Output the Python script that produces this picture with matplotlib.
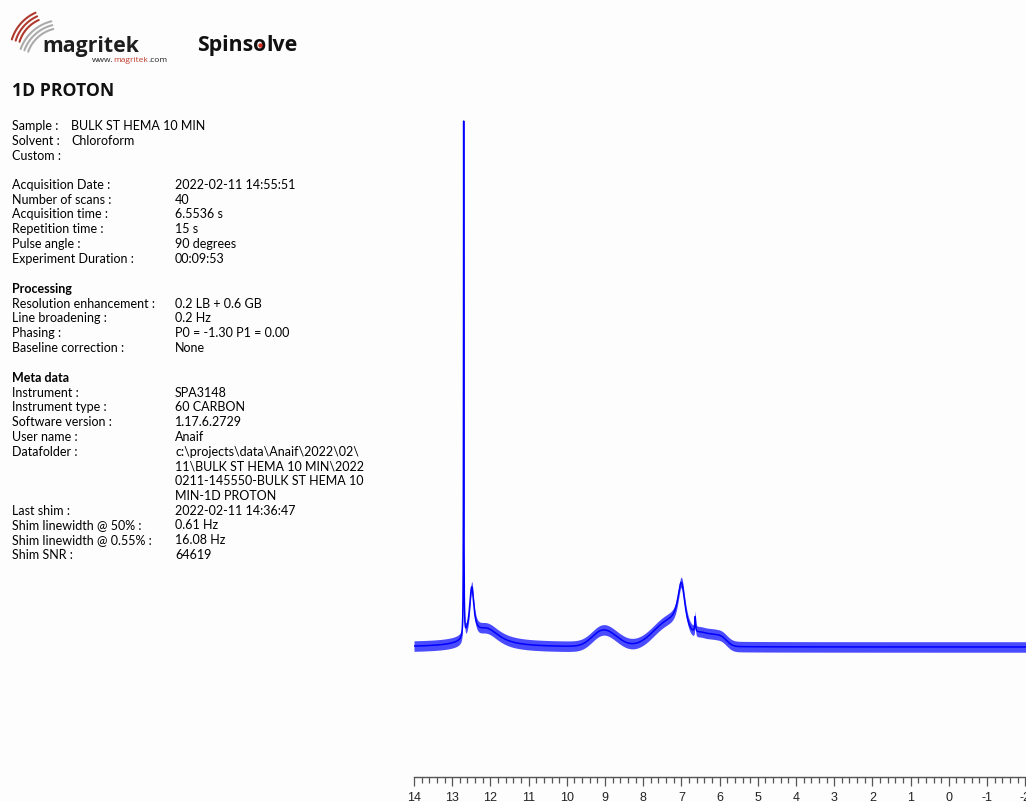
import numpy as np
import matplotlib
matplotlib.use("Agg")
import matplotlib.pyplot as plt
from matplotlib.ticker import MultipleLocator

plt.rcParams["axes.unicode_minus"] = False

# ---- spectrum description: chemical shift (ppm), height (% of tallest), half-width (ppm)
lorentz_ppm = [12.70, 12.49, 12.10, 7.00, 6.64]
lorentz_height = [98.0, 9.6, 3.3, 9.3, 2.9]
lorentz_hwhm = [0.005, 0.07, 0.42, 0.12, 0.012]

gauss_ppm = [9.15, 8.85, 7.35, 6.50, 6.22, 5.95]
gauss_height = [1.9, 1.8, 4.3, 1.6, 1.6, 1.6]
gauss_sigma = [0.25, 0.28, 0.40, 0.15, 0.15, 0.15]

noise_level = 1.0          # half-width of the baseline noise band (% units)
ppm_start, ppm_end = 14.0, -2.1

# ---- report header texts
header_rows = [
    ("Sample :", "BULK ST HEMA 10 MIN", 71),
    ("Solvent :", "Chloroform", 71),
    ("Custom :", "", 71),
]
acq_rows = [
    ("Acquisition Date :", "2022-02-11 14:55:51"),
    ("Number of scans :", "40"),
    ("Acquisition time :", "6.5536 s"),
    ("Repetition time :", "15 s"),
    ("Pulse angle :", "90 degrees"),
    ("Experiment Duration :", "00:09:53"),
]
proc_rows = [
    ("Resolution enhancement :", "0.2 LB + 0.6 GB"),
    ("Line broadening :", "0.2 Hz"),
    ("Phasing :", "P0 = -1.30 P1 = 0.00"),
    ("Baseline correction :", "None"),
]
meta_rows = [
    ("Instrument :", "SPA3148"),
    ("Instrument type :", "60 CARBON"),
    ("Software version :", "1.17.6.2729"),
    ("User name :", "Anaif"),
    ("Datafolder :", "c:\\projects\\data\\Anaif\\2022\\02\\"),
    ("", "11\\BULK ST HEMA 10 MIN\\2022"),
    ("", "0211-145550-BULK ST HEMA 10"),
    ("", "MIN-1D PROTON"),
    ("Last shim :", "2022-02-11 14:36:47"),
    ("Shim linewidth @ 50% :", "0.61 Hz"),
    ("Shim linewidth @ 0.55% :", "16.08 Hz"),
    ("Shim SNR :", "64619"),
]

W, H = 1026, 803
fig = plt.figure(figsize=(W / 100, H / 100), dpi=100)
fig.patch.set_facecolor("#fdfdfd")

# page layer in pixel coordinates
page = fig.add_axes([0, 0, 1, 1])
page.set_xlim(0, W)
page.set_ylim(H, 0)
page.axis("off")
page.patch.set_alpha(0)

body_font = "Lato"
fs = 9.0
lh = 14.75

# ---- logo: swoosh arcs
for r in (35, 39, 43):
    th = np.radians(np.linspace(114, 163, 60))
    page.plot(53 + r * np.cos(th), 53 - r * np.sin(th), color="#b03a2e", lw=1.5,
              solid_capstyle="round")
for r in (36, 40, 44):
    th = np.radians(np.linspace(104, 160, 60))
    page.plot(62 + r * np.cos(th), 65 - r * np.sin(th), color="#ababab", lw=1.5,
              solid_capstyle="round")

page.text(42, 52, "magritek", fontsize=15.3, fontweight="bold", family="Open Sans",
          color="#1e1e1e", va="baseline", ha="left")
t1 = page.text(92, 62, "www.", fontsize=6.0, family="Open Sans", color="#222222",
               va="baseline", ha="left")
fig.canvas.draw()
r_ = fig.canvas.get_renderer()
inv = page.transData.inverted()


def right_edge(t):
    bb = t.get_window_extent(r_)
    return inv.transform((bb.x1, bb.y0))[0]


x2 = right_edge(t1)
t2 = page.text(x2, 62, "magritek", fontsize=6.0, family="Open Sans", color="#c0392b",
               va="baseline", ha="left")
x3 = right_edge(t2)
page.text(x3, 62, ".com", fontsize=6.0, family="Open Sans", color="#222222",
          va="baseline", ha="left")

# Spinsolve wordmark with the target dot inside the "o"
sp = page.text(197, 51, "Spins", fontsize=15.3, fontweight="bold", family="Open Sans",
               color="#111111", va="baseline", ha="left")
xo = right_edge(sp)
so = page.text(xo, 51, "o", fontsize=15.3, fontweight="bold", family="Open Sans",
               color="#111111", va="baseline", ha="left")
xl = right_edge(so)
page.text(xl, 51, "lve", fontsize=15.3, fontweight="bold", family="Open Sans",
          color="#111111", va="baseline", ha="left")
page.scatter([(xo + xl) / 2], [45.5], s=10, color="#d62d20", zorder=5, linewidths=0)

# ---- title
page.text(12, 96, "1D PROTON", fontsize=12.7, fontweight="bold", family="Open Sans",
          color="#111111", va="baseline", ha="left")

# ---- parameter block
y = 130
for lab, val, vx in header_rows:
    page.text(12, y, lab, fontsize=fs, family=body_font, va="baseline")
    page.text(vx, y, val, fontsize=fs, family=body_font, va="baseline")
    y += lh

y = 189
for lab, val in acq_rows:
    page.text(12, y, lab, fontsize=fs, family=body_font, va="baseline")
    page.text(175, y, val, fontsize=fs, family=body_font, va="baseline")
    y += lh

y = 293
page.text(12, y, "Processing", fontsize=fs, family=body_font, fontweight="bold",
          va="baseline")
y += lh
for lab, val in proc_rows:
    page.text(12, y, lab, fontsize=fs, family=body_font, va="baseline")
    page.text(175, y, val, fontsize=fs, family=body_font, va="baseline")
    y += lh

y = 382
page.text(12, y, "Meta data", fontsize=fs, family=body_font, fontweight="bold",
          va="baseline")
y += lh
for lab, val in meta_rows:
    if lab:
        page.text(12, y, lab, fontsize=fs, family=body_font, va="baseline")
    page.text(175, y, val, fontsize=fs, family=body_font, va="baseline")
    y += lh

# ---- spectrum
ppm = np.linspace(ppm_start, ppm_end, 24000)
spec = np.zeros_like(ppm)
for c, h, w in zip(lorentz_ppm, lorentz_height, lorentz_hwhm):
    spec += h * w ** 2 / ((ppm - c) ** 2 + w ** 2)
for c, h, s in zip(gauss_ppm, gauss_height, gauss_sigma):
    spec += h * np.exp(-0.5 * ((ppm - c) / s) ** 2)

px_per_unit = 5.26
base_px = 648
left_px, right_px = 414, W
axis_px, top_px = 778, 100
ax = fig.add_axes([left_px / W, (H - axis_px) / H,
                   (right_px - left_px) / W, (axis_px - top_px) / H])
ax.patch.set_alpha(0)
ax.set_xlim(14.0, 14.0 - (right_px - left_px) / 38.2)
ax.set_ylim(-(axis_px - base_px) / px_per_unit, (base_px - top_px) / px_per_unit)

ax.fill_between(ppm, spec - noise_level, spec + noise_level, color="#0000ff",
                alpha=0.7, linewidth=0)
ax.plot(ppm, spec, color="#0000ff", lw=1.1)

for side in ("left", "right", "top"):
    ax.spines[side].set_visible(False)
ax.spines["bottom"].set_color("#555555")
ax.spines["bottom"].set_linewidth(1.0)
ax.set_yticks([])
ax.xaxis.set_major_locator(MultipleLocator(1))
ax.xaxis.set_minor_locator(MultipleLocator(0.2))
ax.tick_params(axis="x", which="major", length=6.5, width=0.9, color="#555555",
               labelsize=9, pad=3.5, labelcolor="#222222")
ax.tick_params(axis="x", which="minor", length=4.3, width=0.9, color="#555555")
for lbl in ax.get_xticklabels():
    lbl.set_family("Liberation Sans")

fig.savefig("out.png", dpi=100, facecolor=fig.get_facecolor())
